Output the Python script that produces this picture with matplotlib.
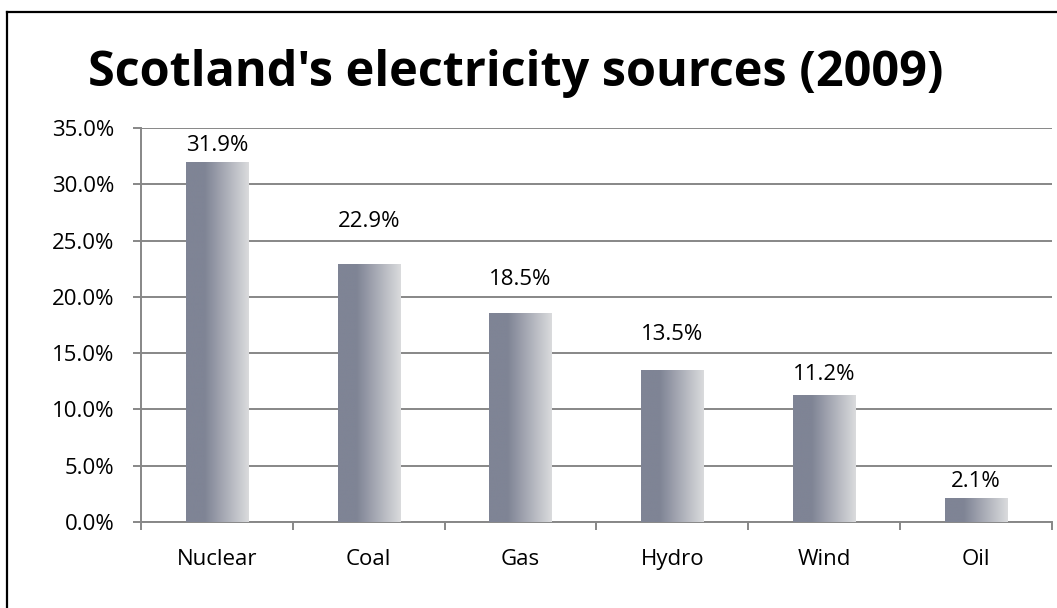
import matplotlib
matplotlib.use("Agg")
import matplotlib.pyplot as plt
import numpy as np
from matplotlib.lines import Line2D

# ---- data ----
categories = ["Nuclear", "Coal", "Gas", "Hydro", "Wind", "Oil"]
shares = [31.9, 22.9, 18.5, 13.5, 11.2, 2.1]
value_labels = ["31.9%", "22.9%", "18.5%", "13.5%", "11.2%", "2.1%"]
y_ticks = [0, 5, 10, 15, 20, 25, 30, 35]
y_tick_labels = ["0.0%", "5.0%", "10.0%", "15.0%", "20.0%", "25.0%", "30.0%", "35.0%"]
title = "Scotland's electricity sources (2009)"

# style: label offset above bar top (pixels)
label_offsets_px = [17, 43, 34.5, 35.5, 21.5, 17]

plt.rcParams['font.family'] = ['Open Sans', 'DejaVu Sans']

W, H, DPI = 1057, 608, 100
fig = plt.figure(figsize=(W / DPI, H / DPI), dpi=DPI)
fig.patch.set_facecolor('white')

ax = fig.add_axes([141 / W, 1 - 522 / H, (1052 - 141) / W, (522 - 128) / H])

grid_c = '#878787'
FS = 16
x = np.arange(len(categories))
bars = ax.bar(x, shares, width=0.41, color='none', edgecolor='none', zorder=3)

# horizontal gradient for each bar
dark = np.array([127, 132, 149]) / 255
light = np.array([218, 219, 221]) / 255
t = np.linspace(0, 1, 256)
w = np.clip((t - 0.3) / 0.7, 0, 1)
grad = dark[None, :] * (1 - w[:, None]) + light[None, :] * w[:, None]
grad_img = grad[None, :, :]
for b in bars:
    x0, y0 = b.get_x(), b.get_y()
    ax.imshow(grad_img, extent=(x0, x0 + b.get_width(), y0, y0 + b.get_height()),
              aspect='auto', zorder=3, interpolation='bilinear')

ax.set_xlim(-0.5, len(categories) - 0.5)
ax.set_ylim(0, 35)

ax.set_yticks(y_ticks)
ax.set_yticklabels(y_tick_labels)
ax.set_xticks(x)
ax.set_xticklabels(categories)
ax.set_xticks(np.arange(len(categories) + 1) - 0.5, minor=True)

ax.yaxis.grid(True, color=grid_c, linewidth=1.4, zorder=0)
ax.set_axisbelow(True)

for s in ['top', 'right']:
    ax.spines[s].set_visible(False)
for s in ['left', 'bottom']:
    ax.spines[s].set_color(grid_c)
    ax.spines[s].set_linewidth(1.4)

ax.tick_params(axis='y', which='major', length=6, width=1.4, color=grid_c,
               labelsize=FS, pad=13, labelcolor='black')
ax.tick_params(axis='x', which='major', length=0, labelsize=FS, pad=19.5,
               labelcolor='black')
ax.tick_params(axis='x', which='minor', length=6, width=1.4, color=grid_c,
               direction='out')

for b, lab, off in zip(bars, value_labels, label_offsets_px):
    ax.annotate(lab, (b.get_x() + b.get_width() / 2, b.get_height()),
                xytext=(0, off * 72 / DPI), textcoords='offset points',
                ha='center', va='center', fontsize=FS, color='black', zorder=5)

fig.text(516 / W, 1 - 73 / H, title, ha='center', va='center',
         fontsize=35, fontweight='bold', color='black')

# outer chart frame (top and left visible)
fig.add_artist(Line2D([7 / W, 1.0], [1 - 12 / H, 1 - 12 / H], color='black',
                      linewidth=1.6, transform=fig.transFigure))
fig.add_artist(Line2D([7 / W, 7 / W], [1 - 12 / H, 0.0], color='black',
                      linewidth=1.6, transform=fig.transFigure))

fig.savefig('out.png', dpi=DPI)
